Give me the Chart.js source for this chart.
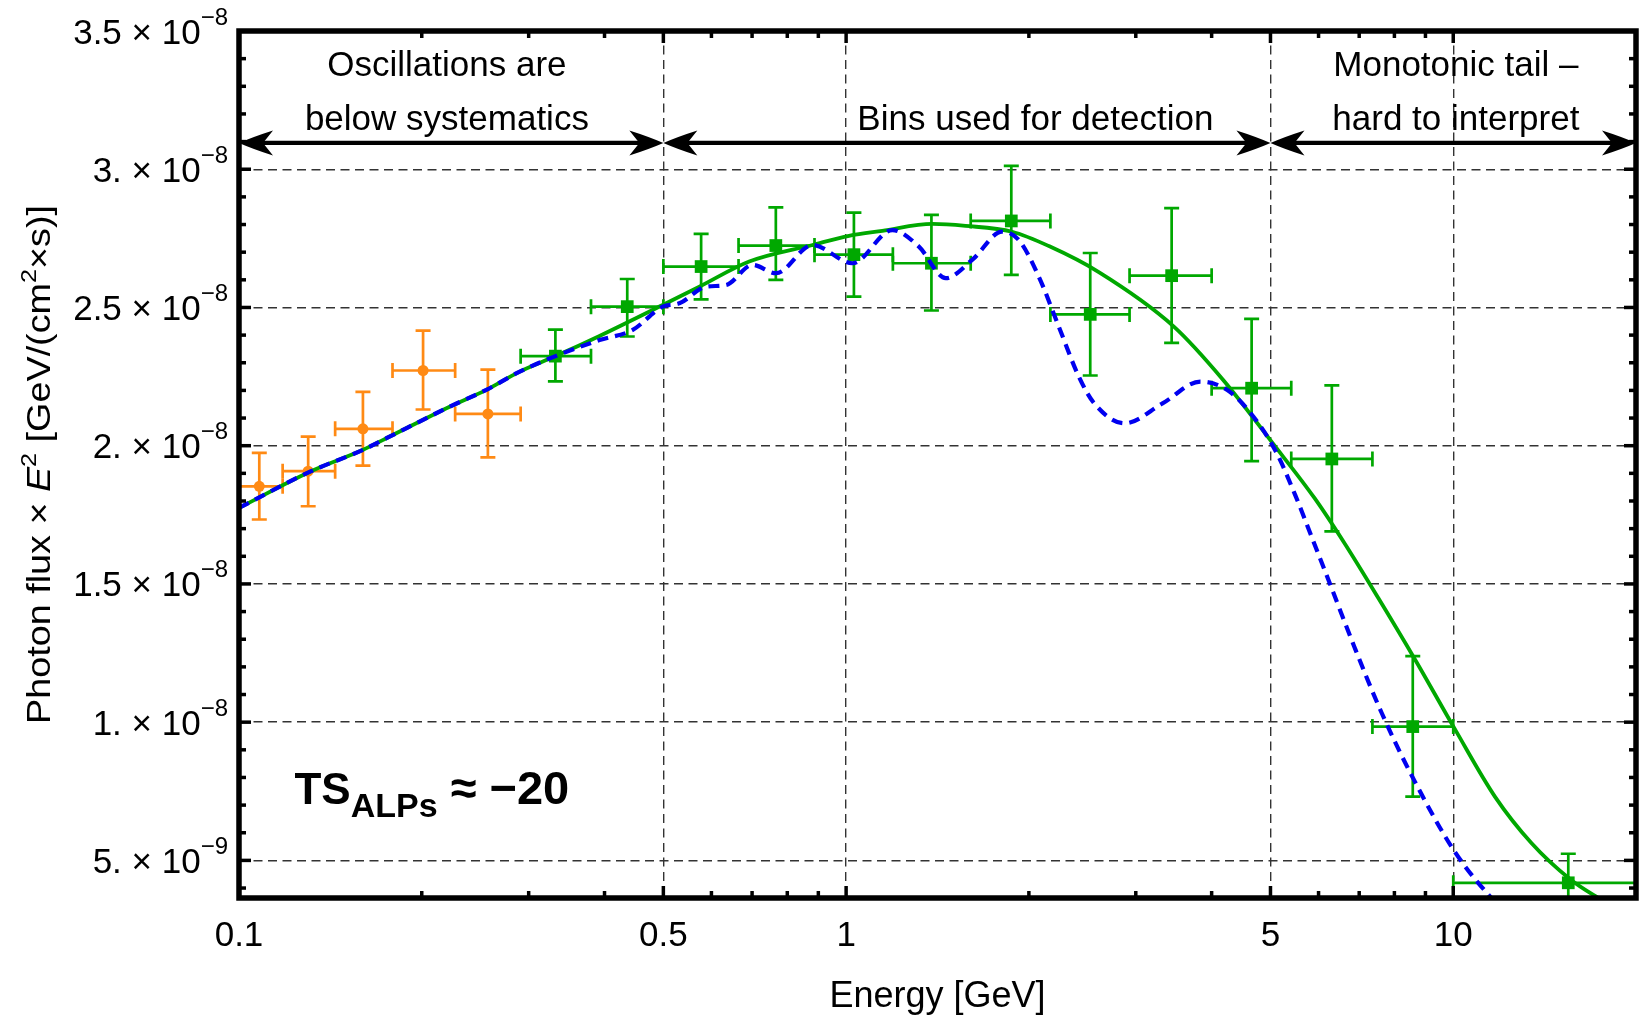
<!DOCTYPE html>
<html>
<head>
<meta charset="utf-8">
<title>Photon flux spectrum</title>
<script src="https://cdn.jsdelivr.net/npm/chart.js@4.4.1/dist/chart.umd.min.js"></script>
<style>
  html, body { margin: 0; padding: 0; background: #fff; }
  #wrap { width: 1645px; height: 1018px; }
</style>
</head>
<body>
<div id="wrap"><canvas id="spectrumChart" width="1645" height="1018"></canvas></div>
<script>
// all flux numbers below are in units of 1e-8 GeV/(cm^2 s)
const FLUX_UNIT = 1e-8;

// low-energy bins (orange), oscillations below systematics
const lowE     = [0.108, 0.130, 0.160, 0.201, 0.257];
const lowEmin  = [0.1, 0.118, 0.144, 0.179, 0.227];
const lowEmax  = [0.118, 0.144, 0.179, 0.227, 0.291];
const lowFlux  = [1.853, 1.908, 2.061, 2.272, 2.115];
const lowFluxLo = [1.733, 1.781, 1.928, 2.131, 1.958];
const lowFluxHi = [1.974, 2.033, 2.195, 2.416, 2.275];

// detection bins (green squares)
const binE     = [0.332, 0.436, 0.577, 0.766, 1.030, 1.382, 1.871, 2.524, 3.437, 4.655, 6.31, 8.577, 15.47];
const binEmin  = [0.291, 0.380, 0.5, 0.665, 0.887, 1.194, 1.604, 2.17, 2.93, 4.0, 5.41, 7.36, 10];
const binEmax  = [0.380, 0.5, 0.665, 0.887, 1.194, 1.604, 2.17, 2.93, 4.0, 5.41, 7.36, 10, 20];
const binFlux  = [2.324, 2.503, 2.648, 2.724, 2.691, 2.660, 2.813, 2.475, 2.615, 2.208, 1.952, 0.984, 0.419];
const binFluxLo = [2.233, 2.395, 2.529, 2.600, 2.539, 2.489, 2.618, 2.254, 2.372, 1.944, 1.690, 0.731, 0.314];
const binFluxHi = [2.420, 2.603, 2.766, 2.862, 2.843, 2.835, 3.012, 2.697, 2.859, 2.459, 2.218, 1.239, 0.524];

// smooth model without ALPs (solid green)
const noAlpE = [0.1, 0.1309, 0.1601, 0.1749, 0.2223, 0.2555, 0.29, 0.333, 0.3925, 0.4987, 0.5731,
                0.6925, 0.8805, 1.011, 1.147, 1.387, 1.573, 1.877, 2.158, 2.607, 3.466, 4.179, 5.038,
                5.907, 6.617, 7.526, 8.66, 10.08, 11.72, 13.45, 15.58, 17.2, 18.5];
const noAlpFlux = [1.775, 1.906, 1.985, 2.027, 2.141, 2.202, 2.268, 2.325, 2.397, 2.509, 2.575,
                   2.666, 2.726, 2.759, 2.777, 2.802, 2.795, 2.774, 2.722, 2.628, 2.431, 2.238, 2.010,
                   1.811, 1.648, 1.449, 1.225, 0.972, 0.730, 0.563, 0.432, 0.369, 0.33];

// model with ALP oscillations (dashed blue)
const alpE = [0.1, 0.1309, 0.1601, 0.1749, 0.2223, 0.2555, 0.29, 0.333, 0.3925, 0.4452, 0.4987, 0.5313,
              0.5877, 0.6341, 0.7013, 0.7663, 0.8805, 1.024, 1.192, 1.318, 1.459, 1.613, 1.807, 1.925,
              2.077, 2.240, 2.417, 2.563, 2.875, 3.32, 3.833, 4.239, 4.688, 5.109, 5.49, 5.898,
              6.228, 6.874, 7.621, 8.65, 10.06, 11.63, 12.31];
const alpFlux = [1.775, 1.906, 1.985, 2.027, 2.141, 2.202, 2.268, 2.325, 2.382, 2.419, 2.503, 2.515,
                 2.575, 2.581, 2.654, 2.624, 2.726, 2.660, 2.780, 2.720, 2.606, 2.672, 2.774, 2.744,
                 2.611, 2.431, 2.250, 2.153, 2.081, 2.153, 2.232, 2.202, 2.105, 1.977, 1.822, 1.648,
                 1.515, 1.272, 1.034, 0.784, 0.531, 0.357, 0.303];

// axes
const xTickValues = [0.1, 0.5, 1, 5, 10];
const xTickLabels = ['0.1', '0.5', '1', '5', '10'];
const xMinorTicks = [0.2, 0.3, 0.4, 0.6, 0.7, 0.8, 0.9, 2, 3, 4, 6, 7, 8, 9];
const yTickValues = [5e-9, 1e-8, 1.5e-8, 2e-8, 2.5e-8, 3e-8, 3.5e-8];
const yTickMantissa = ['5.', '1.', '1.5', '2.', '2.5', '3.', '3.5'];
const yTickExponent = ['\u22129', '\u22128', '\u22128', '\u22128', '\u22128', '\u22128', '\u22128'];
const yMinorTicks = [4, 6, 7, 8, 9, 11, 12, 13, 14, 16, 17, 18, 19, 21, 22, 23, 24,
                     26, 27, 28, 29, 31, 32, 33, 34].map(v => v * 1e-9);

// energy ranges marked with arrows at the top
const rangeEdges = [0.1, 0.5, 5, 20];

const FONT = '"Liberation Sans", Arial, sans-serif';
const GREEN = '#00a800';
const ORANGE = '#ff8a14';
const BLUE = '#0000f0';

const toXY = (es, fs) => es.map((e, i) => ({ x: e, y: fs[i] * FLUX_UNIT }));

function drawRich(ctx, parts, x, y) {
  let cx = x;
  parts.forEach(p => {
    ctx.font = (p.style || '') + p.size + 'px ' + FONT;
    ctx.fillText(p.text, cx, y + (p.dy || 0));
    cx += ctx.measureText(p.text).width;
  });
  return cx - x;
}

function richWidth(ctx, parts) {
  let w = 0;
  parts.forEach(p => {
    ctx.font = (p.style || '') + p.size + 'px ' + FONT;
    w += ctx.measureText(p.text).width;
  });
  return w;
}

function line(ctx, x0, y0, x1, y1) {
  ctx.beginPath();
  ctx.moveTo(x0, y0);
  ctx.lineTo(x1, y1);
  ctx.stroke();
}

function errorBars(ctx, xs, ys, e, emin, emax, f, flo, fhi, color) {
  const cap = 7.5;
  ctx.strokeStyle = color;
  ctx.lineWidth = 2.7;
  for (let i = 0; i < e.length; i++) {
    const px = xs.getPixelForValue(e[i]);
    const py = ys.getPixelForValue(f[i] * FLUX_UNIT);
    const x0 = xs.getPixelForValue(emin[i]);
    const x1 = xs.getPixelForValue(emax[i]);
    const y0 = ys.getPixelForValue(flo[i] * FLUX_UNIT);
    const y1 = ys.getPixelForValue(fhi[i] * FLUX_UNIT);
    ctx.beginPath();
    ctx.moveTo(x0, py); ctx.lineTo(x1, py);
    ctx.moveTo(x0, py - cap); ctx.lineTo(x0, py + cap);
    ctx.moveTo(x1, py - cap); ctx.lineTo(x1, py + cap);
    ctx.moveTo(px, y0); ctx.lineTo(px, y1);
    ctx.moveTo(px - cap, y0); ctx.lineTo(px + cap, y0);
    ctx.moveTo(px - cap, y1); ctx.lineTo(px + cap, y1);
    ctx.stroke();
  }
}

// swept arrow head, dir = -1 points left, +1 points right
function arrowHead(ctx, tipX, y, dir) {
  const len = 34, half = 12.5, notch = 24;
  ctx.beginPath();
  ctx.moveTo(tipX, y);
  ctx.quadraticCurveTo(tipX - dir * 15, y - 6.5, tipX - dir * len, y - half);
  ctx.lineTo(tipX - dir * notch, y);
  ctx.lineTo(tipX - dir * len, y + half);
  ctx.quadraticCurveTo(tipX - dir * 15, y + 6.5, tipX, y);
  ctx.closePath();
  ctx.fill();
}

const spectrumDecor = {
  id: 'spectrumDecor',
  beforeDatasetsDraw(chart) {
    const { ctx, chartArea: a } = chart;
    const xs = chart.scales.x, ys = chart.scales.y;
    ctx.save();
    ctx.beginPath();
    ctx.rect(a.left, a.top, a.right - a.left, a.bottom - a.top);
    ctx.clip();
    errorBars(ctx, xs, ys, lowE, lowEmin, lowEmax, lowFlux, lowFluxLo, lowFluxHi, ORANGE);
    errorBars(ctx, xs, ys, binE, binEmin, binEmax, binFlux, binFluxLo, binFluxHi, GREEN);
    ctx.restore();
  },
  afterDatasetsDraw(chart) {
    const { ctx, chartArea: a } = chart;
    const xs = chart.scales.x, ys = chart.scales.y;
    ctx.save();

    // range arrows
    const ay = ys.getPixelForValue(3.095e-8);
    ctx.fillStyle = '#000';
    ctx.strokeStyle = '#000';
    ctx.lineWidth = 4.2;
    for (let i = 0; i < rangeEdges.length - 1; i++) {
      const x0 = xs.getPixelForValue(rangeEdges[i]);
      const x1 = xs.getPixelForValue(rangeEdges[i + 1]);
      line(ctx, x0 + 22, ay, x1 - 22, ay);
      arrowHead(ctx, x0, ay, -1);
      arrowHead(ctx, x1, ay, 1);
    }

    // range notes
    ctx.font = '35px ' + FONT;
    ctx.textAlign = 'center';
    ctx.textBaseline = 'alphabetic';
    const row1 = ys.getPixelForValue(3.339e-8);
    const row2 = ys.getPixelForValue(3.142e-8);
    let cx = xs.getPixelForValue(0.22);
    ctx.fillText('Oscillations are', cx, row1);
    ctx.fillText('below systematics', cx, row2);
    cx = xs.getPixelForValue(2.05);
    ctx.fillText('Bins used for detection', cx, row2);
    cx = xs.getPixelForValue(10.1);
    ctx.fillText('Monotonic tail \u2013', cx, row1);
    ctx.fillText('hard to interpret', cx, row2);

    // test statistic
    ctx.textAlign = 'left';
    drawRich(ctx, [
      { text: 'TS', size: 44, style: 'bold ' },
      { text: 'ALPs', size: 34, style: 'bold ', dy: 13 },
      { text: ' \u2248 \u221220', size: 47, style: 'bold ' }
    ], xs.getPixelForValue(0.1234), ys.getPixelForValue(7.05e-9));

    // frame with inward ticks on all four sides
    ctx.lineWidth = 3.5;
    xTickValues.forEach(v => {
      const x = xs.getPixelForValue(v);
      line(ctx, x, a.bottom, x, a.bottom - 12);
      line(ctx, x, a.top, x, a.top + 12);
    });
    xMinorTicks.forEach(v => {
      const x = xs.getPixelForValue(v);
      line(ctx, x, a.bottom, x, a.bottom - 7);
      line(ctx, x, a.top, x, a.top + 7);
    });
    yTickValues.forEach(v => {
      const y = ys.getPixelForValue(v);
      line(ctx, a.left, y, a.left + 12, y);
      line(ctx, a.right, y, a.right - 12, y);
    });
    yMinorTicks.forEach(v => {
      const y = ys.getPixelForValue(v);
      line(ctx, a.left, y, a.left + 7, y);
      line(ctx, a.right, y, a.right - 7, y);
    });
    ctx.lineWidth = 5.5;
    ctx.strokeRect(a.left, a.top, a.right - a.left, a.bottom - a.top);
    ctx.restore();
  },
  afterDraw(chart) {
    const { ctx, chartArea: a } = chart;
    const xs = chart.scales.x, ys = chart.scales.y;
    ctx.save();
    ctx.fillStyle = '#000';
    ctx.textBaseline = 'alphabetic';

    // x tick labels
    ctx.font = '35px ' + FONT;
    ctx.textAlign = 'center';
    xTickValues.forEach((v, i) => {
      ctx.fillText(xTickLabels[i], xs.getPixelForValue(v), a.bottom + 48);
    });

    // y tick labels, mantissa x 10^exponent
    ctx.textAlign = 'left';
    yTickValues.forEach((v, i) => {
      const parts = [
        { text: yTickMantissa[i] + ' \u00d7 10', size: 35 },
        { text: yTickExponent[i], size: 24, dy: -19 }
      ];
      const w = richWidth(ctx, parts);
      drawRich(ctx, parts, a.left - 11 - w, ys.getPixelForValue(v) + 12.5);
    });

    // axis titles
    ctx.font = '36px ' + FONT;
    ctx.textAlign = 'center';
    ctx.fillText('Energy [GeV]', (a.left + a.right) / 2, 1007);

    const titleParts = [
      { text: 'Photon flux \u00d7 ', size: 33 },
      { text: 'E', size: 33, style: 'italic ' },
      { text: '2', size: 22, dy: -14 },
      { text: ' [GeV/(cm', size: 33 },
      { text: '2', size: 22, dy: -14 },
      { text: '\u00d7s)]', size: 33 }
    ];
    ctx.textAlign = 'left';
    const tw = richWidth(ctx, titleParts);
    ctx.translate(50, (a.top + a.bottom) / 2);
    ctx.rotate(-Math.PI / 2);
    ctx.scale(519 / tw, 1);
    drawRich(ctx, titleParts, -tw / 2, 0);
    ctx.restore();
  }
};

const ctx = document.getElementById('spectrumChart').getContext('2d');
const spectrumChart = new Chart(ctx, {
  type: 'scatter',
  data: {
    datasets: [
      {
        label: 'With ALPs',
        data: toXY(alpE, alpFlux),
        showLine: true,
        borderColor: BLUE,
        borderWidth: 4.2,
        borderDash: [11, 7],
        pointRadius: 0,
        cubicInterpolationMode: 'monotone',
        order: 0
      },
      {
        label: 'Without ALPs',
        data: toXY(noAlpE, noAlpFlux),
        showLine: true,
        borderColor: GREEN,
        borderWidth: 3.8,
        pointRadius: 0,
        cubicInterpolationMode: 'monotone',
        order: 1
      },
      {
        label: 'Detection bins',
        data: toXY(binE, binFlux),
        pointStyle: 'rect',
        pointRadius: 9,
        backgroundColor: GREEN,
        borderWidth: 0,
        order: 2
      },
      {
        label: 'Low-energy bins',
        data: toXY(lowE, lowFlux),
        pointStyle: 'circle',
        pointRadius: 5.5,
        backgroundColor: ORANGE,
        borderWidth: 0,
        order: 3
      }
    ]
  },
  options: {
    responsive: false,
    animation: false,
    devicePixelRatio: 1,
    layout: { padding: { top: 31, right: 7, left: 0, bottom: 0 } },
    plugins: {
      legend: { display: false },
      tooltip: { enabled: false }
    },
    scales: {
      x: {
        type: 'logarithmic',
        min: 0.1,
        max: 20,
        afterBuildTicks: s => { s.ticks = [0.5, 1, 5, 10].map(v => ({ value: v })); },
        afterFit: s => { s.height = 120; },
        ticks: { display: false },
        grid: { color: '#333', lineWidth: 1.4, drawTicks: false },
        border: { display: false, dash: [9, 5.5] }
      },
      y: {
        type: 'linear',
        min: 3.64e-9,
        max: 3.5e-8,
        afterBuildTicks: s => { s.ticks = yTickValues.slice(0, 6).map(v => ({ value: v })); },
        afterFit: s => { s.width = 239; },
        ticks: { display: false },
        grid: { color: '#333', lineWidth: 1.4, drawTicks: false },
        border: { display: false, dash: [9, 5.5] }
      }
    }
  },
  plugins: [spectrumDecor]
});
</script>
</body>
</html>
